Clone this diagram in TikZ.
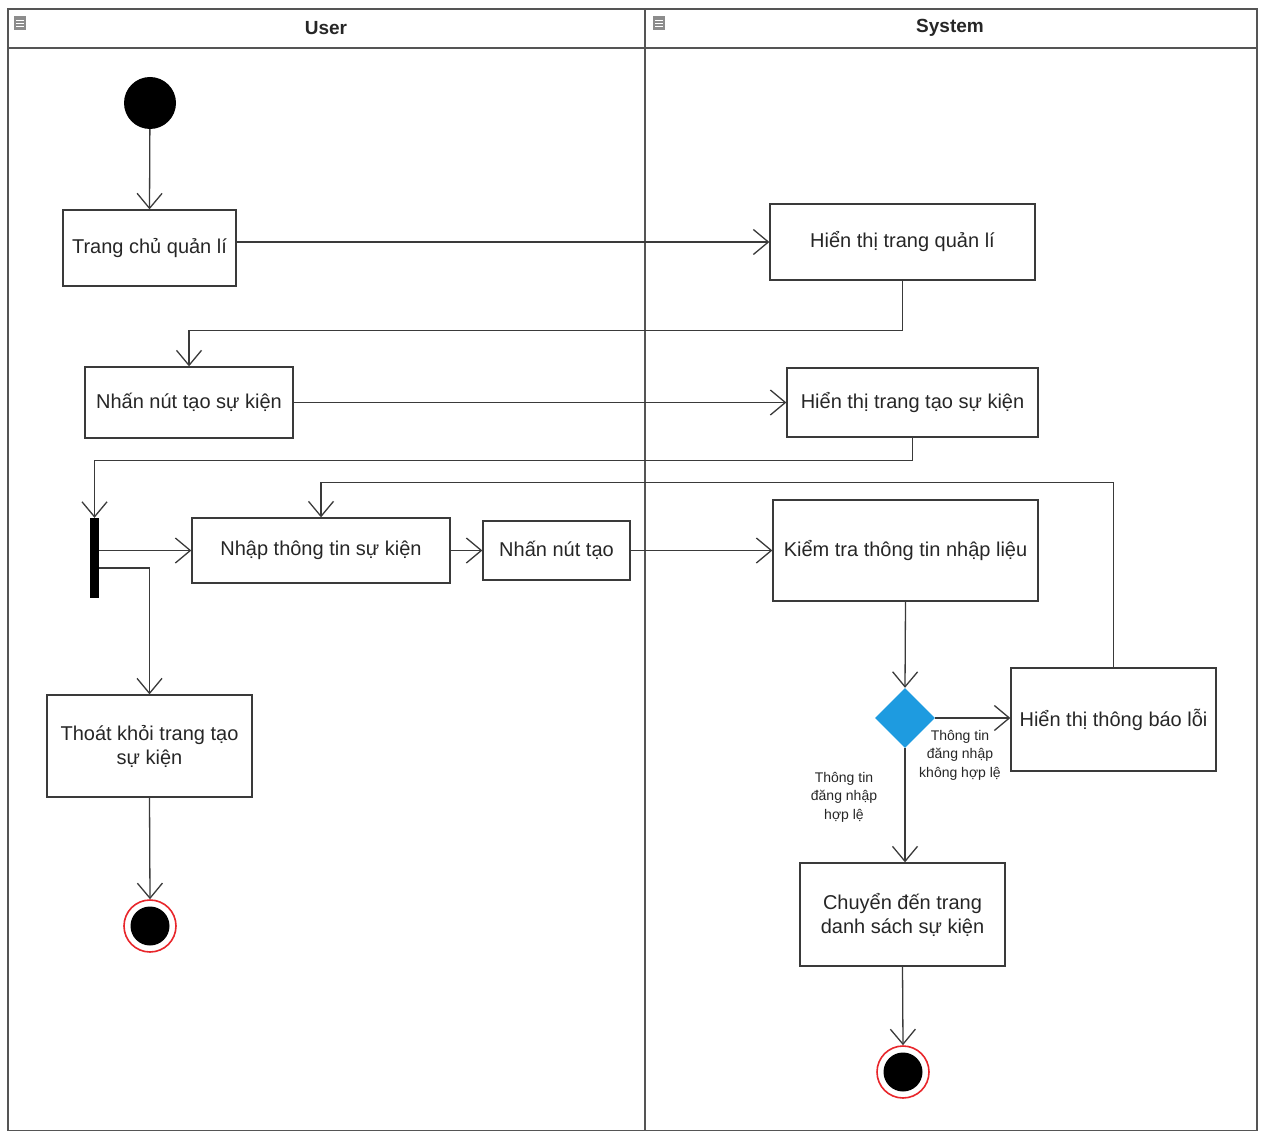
\documentclass[tikz,border=0pt]{standalone}
\usepackage{fontspec}
\setmainfont{Liberation Sans}
\usetikzlibrary{arrows.meta,shapes.geometric}
\definecolor{lineg}{HTML}{3A3A3A}
\definecolor{laneg}{HTML}{555555}
\definecolor{decblue}{HTML}{1E9BE0}
\definecolor{endred}{HTML}{E8262B}
\begin{document}
\begin{tikzpicture}[x=1pt,y=-1pt,
  act/.style={draw=lineg,line width=1.3pt,rectangle,inner sep=2pt,align=center,font=\fontsize{20}{24}\selectfont,text=black!85},
  flow/.style={draw=lineg,line width=1.3pt,-{Straight Barb[length=15pt,width=25pt,line width=1.3pt]}},
  guard/.style={align=center,font=\fontsize{14}{18.5}\selectfont,inner sep=0pt,text=black!85},
  lane/.style={draw=laneg,line width=1.5pt},
  hdr/.style={font=\fontsize{19}{22}\selectfont\bfseries,text=black!85}
]
\useasboundingbox (0,0) rectangle (1265,1131);
% swimlanes
\draw[lane] (8,9) rectangle (645,1131);
\draw[lane] (645,9) rectangle (1257,1131);
\draw[lane] (8,48) -- (1257,48);
\node[hdr] (userh) at (326,28) {User};
\node[hdr] (sysh) at (950,28) {System};
\foreach \ix in {14,653}{
  \fill[black!45] (\ix,16) rectangle ++(12,14);
  \draw[white,line width=0.8pt] (\ix+2,20) -- ++(8,0) (\ix+2,23) -- ++(8,0) (\ix+2,26) -- ++(8,0);
}
% nodes
\node[circle,fill=black,minimum size=52pt,inner sep=0pt] (start) at (150,103) {};
\node[act,minimum width=173pt,minimum height=76pt] (trangchu) at (149.5,248) {Trang chủ quản lí};
\node[act,minimum width=265pt,minimum height=76pt] (htql) at (902.5,242) {Hiển thị trang quản lí};
\node[act,minimum width=208pt,minimum height=71pt] (nhannut) at (189,402.5) {Nhấn nút tạo sự kiện};
\node[act,minimum width=251pt,minimum height=69pt] (httao) at (912.5,402.5) {Hiển thị trang tạo sự kiện};
\node[fill=black,minimum width=9pt,minimum height=80pt,inner sep=0pt] (bar) at (94.5,558) {};
\node[act,minimum width=258pt,minimum height=65pt] (nhap) at (321,550.5) {Nhập thông tin sự kiện};
\node[act,minimum width=147pt,minimum height=59pt] (nhantao) at (556.5,550.5) {Nhấn nút tạo};
\node[act,minimum width=265pt,minimum height=101pt] (kiemtra) at (905.5,550.5) {Kiểm tra thông tin nhập liệu};
\node[diamond,fill=decblue,minimum width=60pt,minimum height=60pt,inner sep=0pt] (dec) at (905,718) {};
\node[act,minimum width=205pt,minimum height=103pt] (loi) at (1113.5,719.5) {Hiển thị thông báo lỗi};
\node[act,minimum width=205pt,minimum height=102pt] (thoat) at (149.5,746) {Thoát khỏi trang tạo\\sự kiện};
\node[act,minimum width=205pt,minimum height=103pt] (chuyen) at (902.5,914.5) {Chuyển đến trang\\danh sách sự kiện};
\node[circle,draw=endred,line width=1.6pt,fill=white,minimum size=52pt,inner sep=0pt] (end1) at (150,926) {};
\fill[black] (end1.center) circle (19.5pt);
\node[circle,draw=endred,line width=1.6pt,fill=white,minimum size=52pt,inner sep=0pt] (end2) at (903,1072) {};
\fill[black] (end2.center) circle (19.5pt);
% guards
\node[guard] (g1) at (960,755) {Thông tin\\đăng nhập\\không hợp lệ};
\node[guard] (g2) at (844,797) {Thông tin\\đăng nhập\\hợp lệ};
% flows
\draw[flow] (start) -- (trangchu.north);
\draw[flow] (trangchu.east |- htql.west) -- (htql.west);
\draw[flow] (htql.south) -- ++(0,50) -| (nhannut.north);
\draw[flow] (nhannut.east) -- (httao.west);
\draw[flow] (httao.south) -- ++(0,23) -| (bar.north);
\draw[flow] (bar.east |- nhap.west) -- (nhap.west);
\draw[flow] ([yshift=-10pt]bar.east) -| (thoat.north);
\draw[flow] (nhap.east) -- (nhantao.west);
\draw[flow] (nhantao.east) -- (kiemtra.west);
\draw[flow] (kiemtra.south) -- (dec.north);
\draw[flow] (dec.east) -- (dec.east -| loi.west);
\draw[flow] (dec.south) -- (dec.south |- chuyen.north);
\draw[flow] (loi.north) -- ++(0,-185) -| (nhap.north);
\draw[flow] (thoat.south) -- (end1.north);
\draw[flow] (chuyen.south) -- (end2.north);
\end{tikzpicture}
\end{document}
